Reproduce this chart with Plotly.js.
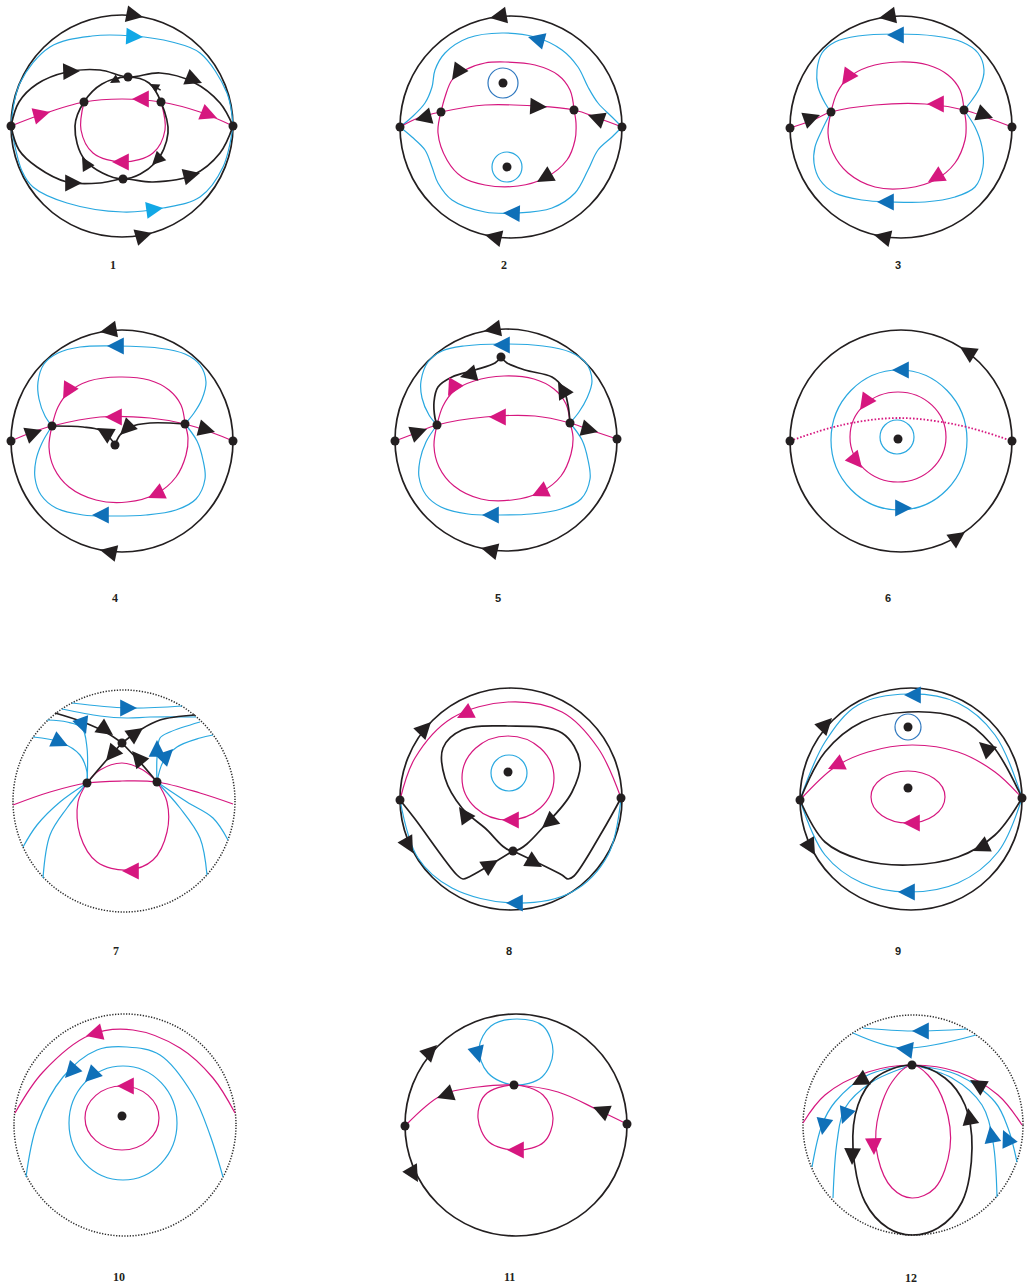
<!DOCTYPE html>
<html><head><meta charset="utf-8">
<script src="https://cdn.plot.ly/plotly-3.0.1.min.js"></script>
<style>html,body{margin:0;padding:0;background:#fff}</style>
</head><body><div id="chart" style="width:1030px;height:1288px"></div>
<script>
// ===== DATA (local coordinates per panel, y up, disk radius ~111) =====
const LABELS = ['1','2','3','4','5','6','7','8','9','10','11','12'];

// Curves are flat lists u1,v1,u2,v2,...
// Arrows: [u, v, direction(deg), colourKey, sizeFactor]
// Rings: [cu, cv, rx, ry, colourKey]
const P1_BLACK = [
 [-111,0, -103,24, -85,42, -55,54, -22,56, 6,49, 38,53, 71,44, 98,23, 111,0],
 [-111,0, -103,-24, -85,-41, -55,-56, -22,-57, 1,-53, 31,-56, 71,-49, 98,-27, 111,0],
 [-47,0, -38,24, -20,42, 6,49, 27,43, 39,24, 46,-7, 33,-37, 1,-53, -37,-34, -47,0]
];
const P1_CYAN = [
 [-111,0, -102,43, -72,79, -30,90, 11,90, 50,84, 78,73, 105,33, 111,0],
 [-111,0, -100,-45, -89,-61, -55,-77, 1,-86, 41,-82, 78,-71, 101,-41, 111,0]
];
const P1_MAGENTA = [
 [-111,0, -82,11, -38,24, 0,27, 39,24, 78,14, 111,0],
 [-38,24, -41,-4, -29,-27, 1,-36, 31,-27, 43,-4, 39,24]
];
const P1_DOTS = [[-111,0],[111,0],[-38,24],[6,49],[39,24],[1,-53]];
const P1_ARROWS = [
 [21,109,-11,'k'], [30,-107,16,'k'],
 [21,89,-3,'bc'], [41,-82,8,'bc'],
 [-42,55,2,'k'], [80,43,-22,'k'],
 [-40,-57,0,'k'], [78,-47,14,'k'],
 [-12,43,210,'k',0.55], [28,42,150,'k',0.55],
 [-40,-31,120,'k',0.8], [30,-39,225,'k',0.8],
 [-72,14,15,'m'], [10,27,180,'m'], [95,8,-22,'m'],
 [-10,-36,180,'m']
];

const P2_CYAN = [
 [-111,0, -99,10, -86,24, -79,40, -76,57, -66,74, -43,89, -9,94, 24,90, 51,77, 67,60, 77,40, 87,24, 101,10, 111,0],
 [-111,0, -99,-10, -86,-23, -79,-40, -73,-56, -59,-73, -26,-85, 7,-86, 41,-81, 64,-66, 77,-43, 87,-23, 101,-10, 111,0]
];
const P2_MAGENTA = [
 [-111,0, -93,9, -70,15, -26,22, 24,21, 63,17, 87,9, 111,0],
 [-70,15, -66,30, -59,47, -46,57, -26,64, -6,65, 24,62, 47,52, 59,37, 63,17],
 [-70,15, -73,-6, -64,-33, -49,-50, -26,-58, 7,-59, 34,-51, 56,-33, 64,-13, 65,4, 63,17]
];
const P2_RINGS = [[-8,44,15,15,'bd'], [-4,-40,15,15,'c']];
const P2_DOTS = [[-111,0],[111,0],[-70,15],[63,17],[-8,44],[-4,-40]];
const P2_ARROWS = [
 [-21,109,190,'k'], [-26,-108,167,'k'],
 [17,90,165,'b'], [-8,-86,178,'b'],
 [-96,7,195,'k'], [36,20,-3,'k'], [77,12,160,'k'],
 [-59,47,235,'k'], [26,-55,210,'k']
];

const P3_CYAN = [
 [-70,15, -76,24, -83,40, -84,57, -79,74, -66,85, -43,91, -6,93, 34,91, 61,85, 77,74, 83,57, 79,40, 71,27, 63,17],
 [-70,15, -79,-3, -86,-20, -87,-36, -81,-53, -66,-66, -39,-73, -9,-75, 24,-75, 54,-70, 74,-60, 82,-40, 81,-20, 74,0, 63,17]
];
const P3_MAGENTA = [
 [-111,-1, -88,7, -70,15, -26,22, 24,23, 63,17, 87,9, 111,0],
 [-70,15, -64,34, -53,49, -33,60, -2,65, 27,62, 47,52, 59,37, 63,17],
 [-70,15, -73,-6, -68,-26, -53,-46, -26,-60, 7,-61, 34,-53, 54,-36, 64,-13, 65,4, 63,17]
];
const P3_DOTS = [[-111,-1],[111,0],[-70,15],[63,17]];
const P3_ARROWS = [
 [-22,109,190,'k'], [-27,-108,167,'k'],
 [-81,12,20,'k'], [92,9,-20,'k'],
 [26,23,180,'m'], [-59,42,235,'m'], [27,-55,210,'m'],
 [-14,92,180,'b'], [-24,-75,180,'b']
];

const P4_BLACK = [
 [-70,15, -39,14, -22,11, -12,3, -7,-4],
 [63,17, 28,18, 8,14, -2,6, -7,-4]
];
const P4_CYAN = [
 [-70,15, -77,25, -83,42, -84,59, -78,77, -64,88, -42,94, -5,95, 36,93, 63,87, 78,76, 84,59, 80,42, 72,28, 63,17],
 [-70,15, -80,-2, -86,-19, -87,-37, -81,-54, -66,-67, -39,-74, -9,-75, 24,-74, 54,-69, 74,-58, 83,-38, 81,-19, 75,0, 63,17]
];
const P4_MAGENTA = [
 [-111,0, -92,8, -70,15, -22,24, 28,23, 63,17, 91,8, 111,0],
 [-70,15, -64,34, -53,49, -33,60, -3,64, 27,61, 47,51, 59,36, 63,17],
 [-70,15, -73,-6, -68,-27, -53,-46, -26,-59, 5,-61, 34,-53, 54,-36, 64,-14, 66,3, 63,17]
];
const P4_DOTS = [[-111,0],[111,0],[-70,15],[63,17],[-7,-4]];
const P4_ARROWS = [
 [-22,109,190,'k'], [-22,-109,168,'k'],
 [-80,11,20,'k'], [93,9,-15,'k'],
 [-17,24,180,'m'], [-59,42,240,'m'], [26,-57,205,'m'],
 [-15,95,180,'b'], [-30,-74,180,'b'],
 [-25,13,150,'k'], [-2,6,225,'k']
];

const P5_BLACK = [
 [-5,83, -11,77, -31,70, -54,63, -68,53, -72,38, -71,22, -69,15],
 [-5,83, 1,77, 19,70, 46,63, 57,52, 62,35, 64,17]
];
const P5_CYAN = [
 [-69,15, -77,25, -84,42, -85,59, -78,78, -64,89, -42,94, -4,96, 37,94, 64,88, 80,77, 86,59, 81,42, 73,28, 64,17],
 [-69,15, -80,-2, -86,-20, -87,-37, -80,-55, -65,-67, -38,-74, -8,-75, 25,-74, 55,-69, 75,-59, 84,-39, 82,-20, 76,0, 64,17]
];
const P5_MAGENTA = [
 [-111,-1, -90,7, -69,15, -21,23, 29,24, 64,17, 90,8, 111,1],
 [-69,15, -63,34, -52,49, -32,59, -2,64, 28,61, 48,51, 60,36, 64,17],
 [-69,15, -72,-6, -67,-27, -52,-46, -25,-59, 6,-60, 35,-52, 55,-36, 65,-14, 67,3, 64,17]
];
const P5_DOTS = [[-111,-1],[111,1],[-69,15],[64,17],[-5,83]];
const P5_ARROWS = [
 [-22,109,190,'k'], [-25,-108,167,'k'],
 [-79,11,20,'k'], [92,8,-15,'k'],
 [-17,23,180,'m'], [-58,44,240,'m'], [26,-56,205,'m'],
 [-13,95,180,'b'], [-24,-75,180,'b'],
 [-46,63,195,'k'], [52,58,120,'k']
];

const P6_MAGENTA_DOT = [[-111,0, -59,16, -3,23, 57,16, 111,0]];
const P6_RINGS = [[-4,4,17,17,'c'], [-3,4,48,45,'m'], [-2,1,68,70,'c']];
const P6_DOTS = [[-111,0],[111,0],[-3,2]];
const P6_ARROWS = [
 [59,94,148,'k'], [64,-91,35,'k'],
 [-41,31,235,'m'], [-39,-27,-50,'m'],
 [-9,71,180,'b'], [11,-67,0,'b']
];

const P7_BLACK = [
 [-69,88, -41,79, -17,68, -2,58],
 [-2,58, 16,71, 36,81, 71,86],
 [-2,58, -20,38, -37,18],
 [33,19, 15,40, -2,58]
];
const P7_CYAN = [
 [-52,98, 3,93, 58,95],
 [-62,92, -24,85, 3,83, 26,84, 72,84],
 [-77,81, -57,79, -42,73, -37,53, -37,18],
 [-91,64, -64,59, -44,46, -37,29, -37,18],
 [33,19, 33,43, 36,63, 46,69, 76,79],
 [33,19, 39,39, 53,54, 76,63, 89,66],
 [-37,18, -64,-1, -87,-24, -101,-46],
 [-37,18, -57,-7, -74,-34, -81,-77],
 [33,19, 63,-1, 89,-17, 104,-39],
 [33,19, 56,-7, 76,-37, 83,-74]
];
const P7_MAGENTA = [
 [-111,-4, -74,9, -37,18, -2,20, 33,19, 76,8, 109,-3],
 [-37,18, -24,31, -2,38, 19,31, 33,19],
 [-37,18, -46,-1, -44,-34, -27,-61, 3,-69, 29,-59, 43,-31, 43,-1, 33,19]
];
const P7_DOTS = [[-37,18],[33,19],[-2,58]];
const P7_ARROWS = [
 [-11,66,-35,'k'], [19,73,35,'k'], [-18,40,230,'k'], [8,50,130,'k'],
 [-2,-70,180,'m'],
 [13,93,0,'b'], [-38,67,-70,'b'], [-56,55,-25,'b'], [33,61,90,'b'], [49,52,45,'b']
];

const P8_BLACK = [
 [2,-52, -26,-29, -49,-9, -66,21, -68,51, -49,69, -3,73, 51,66, 69,37, 61,7, 37,-23, 2,-52],
 [-111,-1, -96,-20, -54,-76, -48,-80, -42,-78, 2,-52],
 [2,-52, 51,-76, 57,-80, 63,-77, 91,-33, 110,1]
];
const P8_MAGENTA = [[-111,-1, -96,41, -59,81, -3,97, 51,87, 87,51, 110,1]];
const P8_CYAN = [[-111,-1, -93,-59, -59,-89, 1,-104, 61,-93, 97,-56, 110,1]];
const P8_RINGS = [[-2,26,18,18,'c'], [-3,21,46,42,'m']];
const P8_DOTS = [[-111,-1],[110,1],[-3,27],[2,-52]];
const P8_ARROWS = [
 [-80,77,46,'k'], [-98,-54,-61,'k'],
 [-54,81,207,'m'], [-9,-21,180,'m'], [-5,-104,180,'b'],
 [-52,-8,125,'k'], [31,-29,220,'k'],
 [-13,-61,32,'k'], [31,-68,-30,'k']
];

const P9_BLACK = [
 [-111,-1, -86,47, -49,77, -3,87, 47,81, 81,54, 111,1],
 [-111,-1, -86,-43, -49,-61, -3,-66, 47,-58, 84,-36, 111,1]
];
const P9_CYAN = [
 [-111,-1, -86,57, -53,94, -3,105, 47,96, 84,64, 111,1],
 [-111,-1, -86,-56, -49,-84, -3,-93, 47,-84, 87,-53, 111,1]
];
const P9_MAGENTA = [[-111,-1, -76,32, -43,47, 1,54, 47,47, 84,27, 111,1]];
const P9_RINGS = [[-3,72,13,13,'bd'], [-3,2,37,26,'m']];
const P9_DOTS = [[-111,-1],[111,1],[-3,72],[-3,11]];
const P9_ARROWS = [
 [-79,81,46,'k'], [-96,-56,-60,'k'],
 [-7,104,180,'b'], [68,57,138,'k'], [-83,30,205,'m'],
 [-8,-24,180,'m'], [62,-52,205,'k'], [-13,-93,180,'b']
];

const P10_MAGENTA = [[-110,12, -82,53, -35,90, 8,95, 55,77, 88,47, 110,12]];
const P10_CYAN = [[-99,-52, -88,0, -62,48, -28,75, 2,78, 35,70, 68,30, 85,-10, 98,-52]];
const P10_RINGS = [[-2,2,54,57,'c'], [-3,7,37,32,'m']];
const P10_DOTS = [[-3,9]];
const P10_ARROWS = [
 [-39,89,195,'m'], [-60,47,228,'b'], [-40,43,225,'b'], [-8,39,180,'m']
];

const P11_MAGENTA = [
 [-111,-1, -74,30, -38,38, -2,40, 42,33, 82,15, 111,1],
 [-2,40, -31,30, -38,7, -27,-17, 1,-25, 28,-17, 37,7, 27,30, -2,40]
];
const P11_CYAN = [[-2,40, -28,52, -37,77, -25,99, 1,106, 27,99, 37,73, 26,48, -2,40]];
const P11_DOTS = [[-111,-1],[111,1],[-2,40]];
const P11_ARROWS = [
 [-79,80,45,'k'], [-98,-57,-60,'k'],
 [-79,27,200,'k'], [77,18,157,'k'],
 [-36,62,-75,'b'], [-9,-25,180,'m']
];

const P12_BLACK = [[-1,60, -38,47, -55,20, -60,-23, -48,-77, -25,-103, -1,-110, 25,-103, 49,-77, 59,-23, 52,20, 32,47, -1,60]];
const P12_CYAN = [
 [-50,97, -1,94, 54,96],
 [-60,92, -11,77, 63,90],
 [-1,60, -45,50, -78,23, -91,0, -101,-42],
 [-1,60, -41,43, -68,17, -76,-17, -80,-73],
 [-1,60, 39,47, 69,20, 80,-17, 84,-72],
 [-1,60, 45,50, 82,23, 95,-3, 104,-37]
];
const P12_MAGENTA = [
 [-110,2, -88,30, -45,53, -1,60, 45,53, 85,30, 109,0],
 [-1,60, -21,43, -36,3, -35,-33, -21,-63, -1,-73, 22,-63, 37,-23, 32,20, 15,50, -1,60]
];
const P12_DOTS = [[-1,60]];
const P12_ARROWS = [
 [-61,40,208,'k'], [57,45,150,'k'],
 [-91,-10,-100,'b'], [-71,1,-110,'b'], [77,-1,100,'b'], [90,-5,115,'b'],
 [-61,-40,-92,'k'], [55,17,100,'k'], [-39,-30,-88,'m'],
 [-1,94,180,'b'], [-17,77,172,'b']
];

// ===== STYLE / LAYOUT =====
const COL = {k:'#231f20', m:'#d6177f', c:'#29a8e0', b:'#0f70b8', bc:'#12a8e6', bd:'#2f78bf'};
const W = 1030, H = 1288, WX = 115, WY = 125;

const PANELS = [
 {c:[122,126], r:111, black:P1_BLACK, cyan:P1_CYAN, magenta:P1_MAGENTA, dots:P1_DOTS, arrows:P1_ARROWS, lab:[113,265], serif:true},
 {c:[511,127], r:111, cyan:P2_CYAN, magenta:P2_MAGENTA, rings:P2_RINGS, dots:P2_DOTS, arrows:P2_ARROWS, lab:[504,265], serif:true},
 {c:[901,127], r:111, cyan:P3_CYAN, magenta:P3_MAGENTA, dots:P3_DOTS, arrows:P3_ARROWS, lab:[898,265]},
 {c:[122,441], r:111, black:P4_BLACK, cyan:P4_CYAN, magenta:P4_MAGENTA, dots:P4_DOTS, arrows:P4_ARROWS, lab:[115,598], serif:true},
 {c:[506,440], r:111, black:P5_BLACK, cyan:P5_CYAN, magenta:P5_MAGENTA, dots:P5_DOTS, arrows:P5_ARROWS, lab:[498,598]},
 {c:[901,441], r:111, magentaDot:P6_MAGENTA_DOT, rings:P6_RINGS, dots:P6_DOTS, arrows:P6_ARROWS, lab:[888,598]},
 {c:[124,801], r:111, dotted:true, black:P7_BLACK, cyan:P7_CYAN, magenta:P7_MAGENTA, dots:P7_DOTS, arrows:P7_ARROWS, lab:[116,951], serif:true},
 {c:[511,799], r:111, black:P8_BLACK, cyan:P8_CYAN, magenta:P8_MAGENTA, rings:P8_RINGS, dots:P8_DOTS, arrows:P8_ARROWS, lab:[509,951]},
 {c:[911,799], r:111, black:P9_BLACK, cyan:P9_CYAN, magenta:P9_MAGENTA, rings:P9_RINGS, dots:P9_DOTS, arrows:P9_ARROWS, lab:[898,951]},
 {c:[125,1125], r:111, dotted:true, cyan:P10_CYAN, magenta:P10_MAGENTA, rings:P10_RINGS, dots:P10_DOTS, arrows:P10_ARROWS, lab:[119,1277], serif:true},
 {c:[516,1125], r:111, cyan:P11_CYAN, magenta:P11_MAGENTA, dots:P11_DOTS, arrows:P11_ARROWS, lab:[509,1277], serif:true},
 {c:[913,1125], r:110, dotted:true, black:P12_BLACK, cyan:P12_CYAN, magenta:P12_MAGENTA, dots:P12_DOTS, arrows:P12_ARROWS, lab:[911,1278], serif:true}
];

const traces = [], shapes = [], annotations = [];
const layout = {width:W, height:H, margin:{l:0,r:0,t:0,b:0,pad:0}, paper_bgcolor:'#ffffff',
  plot_bgcolor:'rgba(0,0,0,0)', showlegend:false, shapes:shapes, annotations:annotations, hovermode:false};

function xy(flat){const x=[],y=[];for(let i=0;i<flat.length;i+=2){x.push(flat[i]);y.push(flat[i+1]);}return {x:x,y:y};}

PANELS.forEach(function(p,i){
  const n = i+1;
  const xa = n===1?'x':'x'+n, ya = n===1?'y':'y'+n;
  layout[n===1?'xaxis':'xaxis'+n] = {domain:[(p.c[0]-WX)/W,(p.c[0]+WX)/W], range:[-WX,WX], visible:false, fixedrange:true, anchor:ya};
  layout[n===1?'yaxis':'yaxis'+n] = {domain:[(H-p.c[1]-WY)/H,(H-p.c[1]+WY)/H], range:[-WY,WY], visible:false, fixedrange:true, anchor:xa};
  function add(list,color,width,dash){
    (list||[]).forEach(function(c){const d=xy(c);
      traces.push({type:'scatter',mode:'lines',x:d.x,y:d.y,xaxis:xa,yaxis:ya,
        line:{color:color,width:width,shape:'spline',smoothing:1,dash:dash||'solid'},hoverinfo:'skip'});});
  }
  add(p.cyan, COL.c, 1.2);
  add(p.magenta, COL.m, 1.2);
  add(p.magentaDot, COL.m, 1.8, '1.6px,1.9px');
  add(p.black, COL.k, 1.7);
  shapes.push({type:'circle', layer:'below', xref:xa, yref:ya, x0:-p.r, x1:p.r, y0:-p.r, y1:p.r,
    line:{color:p.dotted?'#2e2e2e':COL.k, width:p.dotted?1.5:1.7, dash:p.dotted?'1.3px,1.5px':'solid'}});
  (p.rings||[]).forEach(function(r){
    shapes.push({type:'circle', layer:'below', xref:xa, yref:ya, x0:r[0]-r[2], x1:r[0]+r[2], y0:r[1]-r[3], y1:r[1]+r[3],
      line:{color:COL[r[4]], width:1.2}});
  });
  traces.push({type:'scatter',mode:'markers',x:p.dots.map(d=>d[0]),y:p.dots.map(d=>d[1]),xaxis:xa,yaxis:ya,
    marker:{color:COL.k,size:9,line:{width:0}},cliponaxis:false,hoverinfo:'skip'});
  p.arrows.forEach(function(a){
    const s = a[4]||1, L = 14, th = a[2]*Math.PI/180;
    annotations.push({xref:xa, yref:ya, x:a[0], y:a[1], ax:-L*Math.cos(th), ay:L*Math.sin(th),
      text:'', showarrow:true, arrowhead:2, arrowsize:2.4*s, arrowwidth:1.4, arrowcolor:COL[a[3]],
      standoff:0, font:{size:1}});
  });
  annotations.push({xref:'paper', yref:'paper', x:p.lab[0]/W, y:1-p.lab[1]/H, xanchor:'center', yanchor:'middle',
    showarrow:false, text:'<b>'+LABELS[i]+'</b>',
    font:{family:p.serif?'Liberation Serif, DejaVu Serif, serif':'Liberation Sans, Arial, sans-serif', size:p.serif?12:11, color:'#231f20'}});
});

Plotly.newPlot('chart', traces, layout, {staticPlot:true, displayModeBar:false});
</script>
</body></html>
